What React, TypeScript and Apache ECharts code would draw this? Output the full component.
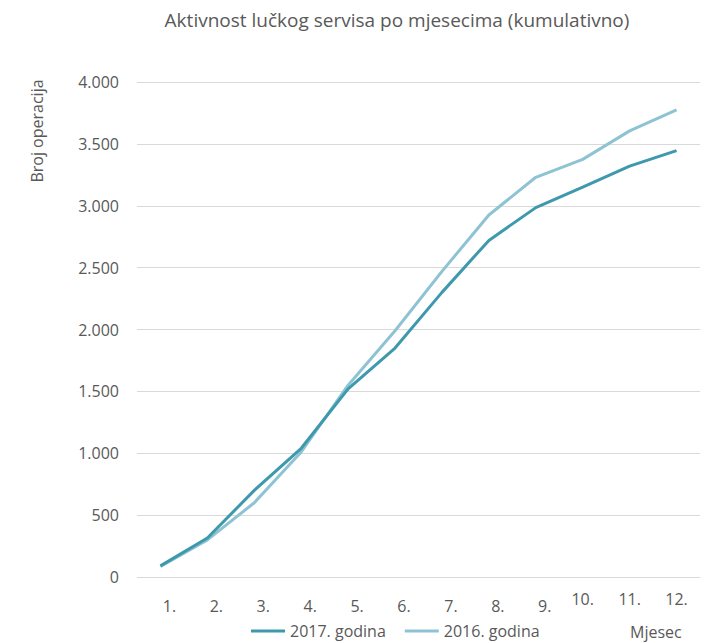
import React, { useEffect, useRef } from "react";
import * as echarts from "echarts";

const months = ["1.", "2.", "3.", "4.", "5.", "6.", "7.", "8.", "9.", "10.", "11.", "12."];
const series2017 = [90, 315, 700, 1040, 1520, 1850, 2300, 2720, 2985, 3150, 3320, 3445];
const series2016 = [85, 300, 600, 1010, 1550, 1990, 2470, 2925, 3230, 3375, 3605, 3775];
const yTicks = { min: 0, max: 4000, interval: 500 };

const TITLE = "Aktivnost lučkog servisa po mjesecima (kumulativno)";
const Y_NAME = "Broj operacija";
const X_NAME = "Mjesec";
const NAME_2017 = "2017. godina";
const NAME_2016 = "2016. godina";

const FONT = "'Open Sans', sans-serif";
const TXT = "#595959";
const FS = 16;

export default function App() {
  const ref = useRef<HTMLDivElement>(null);
  useEffect(() => {
    document.body.style.margin = "0";
    const chart = echarts.init(ref.current!, null, { renderer: "svg" });
    chart.setOption({
      animation: false,
      backgroundColor: "#ffffff",
      textStyle: { fontFamily: FONT },
      grid: { left: 137, right: 5, top: 82, bottom: 66, containLabel: false },
      legend: {
        left: 251,
        top: 623,
        padding: 0,
        itemWidth: 34,
        itemHeight: 3,
        itemGap: 19,
        icon: "rect",
        textStyle: { fontFamily: FONT, fontSize: FS, color: TXT },
        data: [NAME_2017, NAME_2016],
      },
      graphic: [
        {
          type: "text",
          x: 397,
          y: 20,
          style: {
            text: TITLE,
            font: `19px ${FONT}`,
            fill: TXT,
            textAlign: "center",
            textVerticalAlign: "middle",
          },
        },
        {
          type: "text",
          x: 37,
          y: 131,
          rotation: Math.PI / 2,
          style: {
            text: Y_NAME,
            font: `${FS}px ${FONT}`,
            fill: TXT,
            textAlign: "center",
            textVerticalAlign: "middle",
          },
        },
        {
          type: "text",
          x: 630,
          y: 632,
          style: {
            text: X_NAME,
            font: `${FS}px ${FONT}`,
            fill: TXT,
            textAlign: "left",
            textVerticalAlign: "middle",
          },
        },
      ],
      xAxis: {
        type: "category",
        data: months,
        boundaryGap: true,
        axisLine: { show: false },
        axisTick: { show: false },
        splitLine: { show: false },
        axisLabel: {
          interval: 0,
          margin: 14,
          color: TXT,
          fontFamily: FONT,
          fontSize: FS,
          formatter: (v: string, i: number) => (i >= 9 ? `{b|${v}}` : `{a|${v}}`),
          rich: {
            a: { fontFamily: FONT, fontSize: FS, color: TXT, padding: [7, 0, 0, 18] },
            b: { fontFamily: FONT, fontSize: FS, color: TXT, padding: [0, 0, 0, 0] },
          },
        },
      },
      yAxis: {
        type: "value",
        min: yTicks.min,
        max: yTicks.max,
        interval: yTicks.interval,
        axisLine: { show: false },
        axisTick: { show: false },
        splitLine: { lineStyle: { color: "#D9D9D9", width: 1 } },
        axisLabel: {
          margin: 18,
          color: TXT,
          fontFamily: FONT,
          fontSize: FS,
          formatter: (v: number) => v.toString().replace(/\B(?=(\d{3})+(?!\d))/g, "."),
        },
      },
      series: [
        {
          name: NAME_2017,
          type: "line",
          data: series2017,
          showSymbol: false,
          symbol: "none",
          lineStyle: { color: "#3E99AC", width: 3 },
          itemStyle: { color: "#3E99AC" },
          z: 3,
        },
        {
          name: NAME_2016,
          type: "line",
          data: series2016,
          showSymbol: false,
          symbol: "none",
          lineStyle: { color: "#8EC3D3", width: 3 },
          itemStyle: { color: "#8EC3D3" },
          z: 2,
        },
      ],
    });
    return () => chart.dispose();
  }, []);
  return <div ref={ref} style={{ width: 705, height: 643 }} />;
}
